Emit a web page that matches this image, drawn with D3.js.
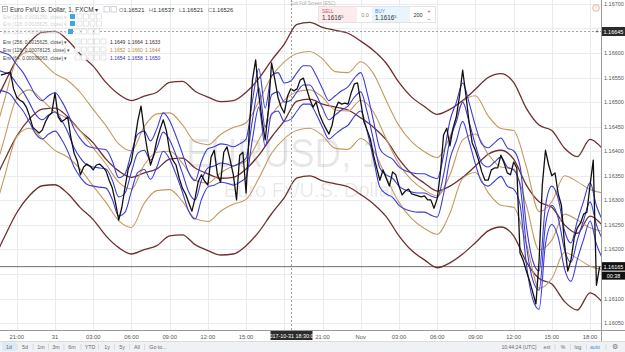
<!DOCTYPE html>
<html><head><meta charset="utf-8">
<script src="https://cdn.jsdelivr.net/npm/d3@7"></script>
<style>
html,body{margin:0;padding:0;background:#fff;overflow:hidden}
svg{display:block;font-family:"Liberation Sans",Arial,sans-serif}
</style></head><body>
<svg id="chart" width="625" height="352"></svg>
<script>
// ---------------- DATA ----------------
const priceStart = "2017-10-30T19:45:00";   // 15-minute samples of the close
const priceStepMin = 15;
const price = [
1.16555,1.16557,1.16559,1.16561,1.16527,1.16510,1.16504,1.16500,1.16490,1.16472,
1.16449,1.16443,1.16437,1.16443,1.16460,1.16472,1.16478,1.16519,1.16470,1.16460,
1.16464,1.16470,1.16427,1.16396,1.16380,1.16352,1.16368,1.16374,1.16370,1.16362,
1.16372,1.16374,1.16368,1.16360,1.16341,1.16325,1.16295,1.16260,1.16286,1.16327,
1.16364,1.16380,1.16419,1.16462,1.16492,1.16443,1.16402,1.16372,1.16392,1.16423,
1.16445,1.16464,1.16441,1.16400,1.16382,1.16372,1.16345,1.16325,1.16313,1.16295,
1.16278,1.16305,1.16339,1.16352,1.16339,1.16331,1.16388,1.16402,1.16352,1.16337,
1.16398,1.16409,1.16382,1.16352,1.16301,1.16392,1.16398,1.16315,1.16443,1.16545,
1.16586,1.16515,1.16464,1.16423,1.16484,1.16580,1.16547,1.16510,1.16490,1.16478,
1.16512,1.16527,1.16523,1.16527,1.16545,1.16549,1.16527,1.16506,1.16490,1.16500,
1.16476,1.16460,1.16447,1.16435,1.16453,1.16486,1.16500,1.16496,1.16498,1.16496,
1.16519,1.16537,1.16539,1.16500,1.16460,1.16443,1.16425,1.16392,1.16366,1.16341,
1.16362,1.16345,1.16329,1.16358,1.16352,1.16329,1.16311,1.16319,1.16323,1.16313,
1.16311,1.16309,1.16307,1.16309,1.16301,1.16301,1.16284,1.16303,1.16356,1.16433,
1.16447,1.16411,1.16447,1.16470,1.16512,1.16565,1.16515,1.16460,1.16417,1.16402,
1.16382,1.16358,1.16341,1.16341,1.16362,1.16366,1.16366,1.16392,1.16376,1.16356,
1.16352,1.16378,1.16366,1.16193,1.16178,1.16156,1.16136,1.16113,1.16089,1.16178,
1.16331,1.16402,1.16372,1.16350,1.16356,1.16313,1.16290,1.16209,1.16156,1.16178,
1.16223,1.16244,1.16254,1.16272,1.16276,1.16331,1.16382,1.16127,1.16165
];

// Envelope middle lines (moving averages)
const env256Start = "2017-10-30T19:00:00";  // hourly
const env256Mid = [
1.16325,1.16380,1.16431,1.16466,1.16486,1.16488,1.16470,1.16441,1.16417,1.16384,
1.16360,1.16347,1.16356,1.16364,1.16384,1.16386,1.16366,1.16354,1.16345,1.16347,
1.16364,1.16392,1.16429,1.16462,1.16502,1.16506,1.16496,1.16490,1.16484,1.16468,
1.16449,1.16423,1.16384,1.16354,1.16335,1.16319,1.16329,1.16347,1.16370,1.16394,
1.16402,1.16384,1.16331,1.16297,1.16286,1.16250,1.16233,1.16268,1.16248
];
const env128Start = "2017-10-30T19:00:00";  // hourly
const env128Mid = [
1.16331,1.16423,1.16508,1.16525,1.16504,1.16480,1.16466,1.16441,1.16407,1.16374,
1.16337,1.16323,1.16372,1.16398,1.16400,1.16376,1.16341,1.16335,1.16356,1.16370,
1.16380,1.16423,1.16474,1.16504,1.16521,1.16525,1.16510,1.16484,1.16482,1.16504,
1.16480,1.16425,1.16374,1.16341,1.16321,1.16309,1.16352,1.16423,1.16435,1.16394,
1.16368,1.16364,1.16290,1.16199,1.16219,1.16272,1.16260,1.16244,1.16237
];
const env64Start = "2017-10-30T19:30:00";   // half-hourly
const env64Mid = [
1.16565,1.16561,1.16555,1.16537,1.16521,1.16498,1.16474,1.16464,1.16474,1.16480,
1.16464,1.16439,1.16407,1.16386,1.16372,1.16368,1.16366,1.16364,1.16341,1.16307,
1.16315,1.16358,1.16396,1.16402,1.16382,1.16407,1.16439,1.16423,1.16392,1.16356,
1.16317,1.16301,1.16341,1.16366,1.16370,1.16376,1.16374,1.16370,1.16376,1.16386,
1.16464,1.16529,1.16449,1.16515,1.16521,1.16500,1.16504,1.16521,1.16535,1.16535,
1.16515,1.16488,1.16464,1.16474,1.16484,1.16492,1.16510,1.16521,1.16480,1.16423,
1.16366,1.16352,1.16345,1.16329,1.16321,1.16317,1.16315,1.16315,1.16309,1.16305,
1.16352,1.16423,1.16460,1.16500,1.16460,1.16413,1.16376,1.16368,1.16378,1.16388,
1.16368,1.16362,1.16331,1.16209,1.16138,1.16117,1.16250,1.16290,1.16264,1.16199,
1.16174,1.16219,1.16260,1.16297,1.16250,1.16219
];

const envLabels = ["Env (256, 0.0015625, close)", "Env (128, 0.00078125, close)", "Env (64, 0.00039063, close)"];
const envOffsets = [0.0015625, 0.00078125, 0.000390625];
const envLegendValues = [["1.1649","1.1664","1.1633"],["1.1652","1.1660","1.1644"],["1.1654","1.1658","1.1650"]];
const hiddenLabels = ["Env (256, 0.0031250, close)", "Env (128, 0.0015625, close)", "Env (256, 0.0039063, close)"];
const ohlc = [["O","1.16521"],["H","1.16537"],["L","1.16521"],["C","1.16526"]];

const yTicks = [1.1670,1.1665,1.1660,1.1655,1.1650,1.1645,1.1640,1.1635,1.1630,1.1625,1.1620,1.1615,1.1610,1.1605];
const xTicks = [
 ["2017-10-30T21:00:00","21:00"],["2017-10-31T00:00:00","31"],["2017-10-31T03:00:00","03:00"],
 ["2017-10-31T06:00:00","06:00"],["2017-10-31T09:00:00","09:00"],["2017-10-31T12:00:00","12:00"],
 ["2017-10-31T15:00:00","15:00"],["2017-10-31T18:00:00","18:00"],["2017-10-31T21:00:00","21:00"],
 ["2017-11-01T00:00:00","Nov"],["2017-11-01T03:00:00","03:00"],["2017-11-01T06:00:00","06:00"],
 ["2017-11-01T09:00:00","09:00"],["2017-11-01T12:00:00","12:00"],["2017-11-01T15:00:00","15:00"],
 ["2017-11-01T18:00:00","18:00"]
];
const crossTime = "2017-10-31T18:30:00";
const crossTimeLabel = "2017-10-31 18:30:00";
const crossPrice = 1.16645;
const countdown = "00:38";
const rangeButtons = ["1d","5d","1m","3m","6m","YTD","1y","5y","All","Go to..."];
const rightButtons = ["10:44:24 (UTC)","ext","%","log","auto"];

// ---------------- DRAWING ----------------
const W = 625, H = 352, PR = 601, PB = 330;
const svg = d3.select("#chart");
const parse = s => new Date(s);
const x = d3.scaleTime().domain([parse("2017-10-30T19:41:00"), parse("2017-11-01T18:51:30")]).range([0, PR]);
const y = d3.scaleLinear().domain([1.16036, 1.16708]).range([PB, 0]);

const series = (start, stepMin, vals) => vals.map((v, i) => ({t: new Date(parse(start).getTime() + i*stepMin*60000), v}));
const priceData = series(priceStart, priceStepMin, price);
const lastPrice = price[price.length-1];
const env = [
  {data: series(env256Start, 60, env256Mid), color: "#6e2f2f", w: 1.3, off: envOffsets[0]},
  {data: series(env128Start, 60, env128Mid), color: "#c49a5e", w: 1.1, off: envOffsets[1]},
  {data: series(env64Start, 30, env64Mid), color: "#3c3cd6", w: 1.1, off: envOffsets[2]}
];

svg.append("defs").append("clipPath").attr("id","plot").append("rect").attr("x",0).attr("y",0).attr("width",PR).attr("height",PB);

// grid
const grid = svg.append("g");
grid.selectAll("line.h").data(yTicks).join("line").attr("x1",0).attr("x2",PR)
  .attr("y1",d=>Math.round(y(d))+0.5).attr("y2",d=>Math.round(y(d))+0.5).attr("stroke","#e9ebee").attr("stroke-width",1);
grid.selectAll("line.v").data(xTicks).join("line").attr("y1",0).attr("y2",PB)
  .attr("x1",d=>Math.round(x(parse(d[0])))+0.5).attr("x2",d=>Math.round(x(parse(d[0])))+0.5).attr("stroke","#e9ebee");

// watermark
svg.append("text").attr("x",186).attr("y",167).attr("font-size",40).attr("fill","#000").attr("fill-opacity",0.095)
  .attr("textLength",196).attr("lengthAdjust","spacingAndGlyphs").text("EURUSD, 1");
svg.append("text").attr("x",224).attr("y",197).attr("font-size",20).attr("fill","#000").attr("fill-opacity",0.095)
  .text("Euro Fx/U.S. Dollar");

const plot = svg.append("g").attr("clip-path","url(#plot)");

// current price line
plot.append("line").attr("x1",0).attr("x2",PR).attr("y1",y(lastPrice)).attr("y2",y(lastPrice))
  .attr("stroke","#4a4a4a").attr("stroke-width",0.8);

const lineGen = (acc) => d3.line().x(d=>x(d.t)).y(d=>y(acc(d))).curve(d3.curveMonotoneX);
env.forEach(e => {
  [d=>d.v + e.off, d=>d.v, d=>d.v - e.off].forEach(acc => {
    plot.append("path").datum(e.data).attr("d", lineGen(acc)).attr("fill","none")
      .attr("stroke", e.color).attr("stroke-width", e.w);
  });
});

plot.append("path").datum(priceData)
  .attr("d", d3.line().x(d=>x(d.t)).y(d=>y(d.v)))
  .attr("fill","none").attr("stroke","#111").attr("stroke-width",1.3).attr("stroke-linejoin","round");

// crosshair
const cx = Math.round(x(parse(crossTime)))+0.5, cy = Math.round(y(crossPrice))+0.5;
svg.append("line").attr("x1",cx).attr("x2",cx).attr("y1",0).attr("y2",PB).attr("stroke","#8a8a8a").attr("stroke-dasharray","2,2").attr("stroke-width",0.8);
svg.append("line").attr("x1",0).attr("x2",PR).attr("y1",cy).attr("y2",cy).attr("stroke","#8a8a8a").attr("stroke-dasharray","2,2").attr("stroke-width",0.8);

// axes borders
svg.append("line").attr("x1",PR+0.5).attr("x2",PR+0.5).attr("y1",0).attr("y2",PB+11).attr("stroke","#9a9a9a");
svg.append("line").attr("x1",0).attr("x2",W).attr("y1",PB+0.5).attr("y2",PB+0.5).attr("stroke","#9a9a9a");

// y labels (those hidden under the crosshair / last-price boxes are skipped)
const ly = y(lastPrice);
const yVisible = yTicks.filter(d => Math.abs(y(d)-cy) > 7 && !(y(d) > ly-7 && y(d) < ly+16));
svg.selectAll("text.yl").data(yVisible).join("text").attr("x",604).attr("y",d=>y(d)+2)
  .attr("font-size",5.5).attr("fill","#555").text(d=>d3.format(".5f")(d));

// x labels
const xVisible = xTicks.filter(d => Math.abs(x(parse(d[0]))-cx) > 26);
svg.selectAll("text.xl").data(xVisible).join("text").attr("x",d=>x(parse(d[0]))).attr("y",338.5)
  .attr("text-anchor","middle").attr("font-size",5.8).attr("fill","#555").text(d=>d[1]);

// crosshair labels
svg.append("rect").attr("x",cx-21).attr("y",331).attr("width",42).attr("height",9).attr("fill","#2b2b2b");
svg.append("text").attr("x",cx).attr("y",337.8).attr("text-anchor","middle").attr("font-size",5.4).attr("fill","#fff").text(crossTimeLabel);
svg.append("rect").attr("x",602).attr("y",cy-4.5).attr("width",23).attr("height",9).attr("fill","#2b2b2b");
svg.append("text").attr("x",603.5).attr("y",cy+2).attr("font-size",5.5).attr("fill","#fff").text(d3.format(".5f")(crossPrice));
svg.append("text").attr("x",597).attr("y",cy+2.5).attr("text-anchor","middle").attr("font-size",7).attr("fill","#555").text("+");

// last price label + countdown
svg.append("rect").attr("x",602).attr("y",ly-4.5).attr("width",23).attr("height",8.5).attr("fill","#111");
svg.append("text").attr("x",603.5).attr("y",ly+2).attr("font-size",5.5).attr("fill","#fff").text(d3.format(".5f")(lastPrice));
svg.append("rect").attr("x",602).attr("y",ly+5).attr("width",23).attr("height",8).attr("fill","#111");
svg.append("text").attr("x",613.5).attr("y",ly+11).attr("text-anchor","middle").attr("font-size",5.4).attr("fill","#fff").text(countdown);

// top-right icon
svg.append("circle").attr("cx",596).attr("cy",8).attr("r",3.3).attr("fill","none").attr("stroke","#e0a070").attr("stroke-width",0.8);
svg.append("text").attr("x",596).attr("y",10).attr("text-anchor","middle").attr("font-size",5).attr("fill","#e0a070").text("!");

// legend
const lg = svg.append("g");
lg.append("rect").attr("x",2.5).attr("y",6.5).attr("width",5).attr("height",5).attr("fill","#fff").attr("stroke","#777").attr("stroke-width",0.6);
lg.append("line").attr("x1",3.5).attr("x2",6.5).attr("y1",9).attr("y2",9).attr("stroke","#555").attr("stroke-width",0.6);
lg.append("text").attr("x",10).attr("y",11.5).attr("fill","#333").attr("font-size",6.4).text("Euro Fx/U.S. Dollar, 1, FXCM \u25BE");
[0,1].forEach(i=>lg.append("rect").attr("x",104+i*7).attr("y",6.5).attr("width",5.5).attr("height",5.5).attr("fill","#fff").attr("stroke","#bbb").attr("stroke-width",0.6));
const ohlcX = [119,149,179,208];
ohlc.forEach((o,i)=>{
  const t = lg.append("text").attr("x",ohlcX[i]).attr("y",11.5).attr("font-size",5.8);
  t.append("tspan").attr("fill","#888").text(o[0]);
  t.append("tspan").attr("fill","#333").text(o[1]);
});
const hidY = [19,26,34];
hiddenLabels.forEach((s,i)=>{
  lg.append("text").attr("x",3).attr("y",hidY[i]).attr("fill","#d2d2d2").attr("font-size",4.8).text(s+" \u25BE");
  const bx = i===2 ? 68 : 70;
  lg.append("rect").attr("x",bx).attr("y",hidY[i]-5).attr("width",5).attr("height",5).attr("fill","#3ea6e3");
  for(let k=0;k<4;k++) lg.append("rect").attr("x",bx+7+k*6.5).attr("y",hidY[i]-5).attr("width",5).attr("height",5).attr("fill","#fff").attr("stroke","#ccc").attr("stroke-width",0.5);
});
const envY = [44,52,60];
const valColors = ["#3a1f1f","#b98a3e","#3232c0"];
envLabels.forEach((s,i)=>{
  lg.append("text").attr("x",3).attr("y",envY[i]).attr("fill","#444").attr("font-size",4.8).text(s+" \u25BE");
  for(let k=0;k<5;k++) lg.append("rect").attr("x",75+k*6.5).attr("y",envY[i]-5).attr("width",5).attr("height",5).attr("fill","#fff").attr("stroke","#ccc").attr("stroke-width",0.5);
  envLegendValues[i].forEach((v,j)=>lg.append("text").attr("x",110+j*17.5).attr("y",envY[i]).attr("fill",valColors[i]).attr("font-size",5).text(v));
});

// buy/sell widget
const wg = svg.append("g");
wg.append("text").attr("x",313).attr("y",4.5).attr("text-anchor","middle").attr("font-size",4.5).attr("fill","#aaa").text("Exit Full Screen (ESC)");
wg.append("rect").attr("x",318.5).attr("y",6.5).attr("width",117).attr("height",16).attr("fill","#fff").attr("stroke","#ddd").attr("stroke-width",0.8);
wg.append("rect").attr("x",319).attr("y",7).attr("width",38).attr("height",15).attr("fill","#fdebed");
wg.append("rect").attr("x",372).attr("y",7).attr("width",38).attr("height",15).attr("fill","#e9f4fc");
wg.append("text").attr("x",322).attr("y",12.5).attr("font-size",4.8).attr("fill","#e0505c").text("SELL");
wg.append("text").attr("x",375).attr("y",12.5).attr("font-size",4.8).attr("fill","#3b8fd9").text("BUY");
[322,375].forEach(px=>{
  const t = wg.append("text").attr("x",px).attr("y",20).attr("font-size",6.3).attr("fill","#333");
  t.append("tspan").text("1.1616");
  t.append("tspan").attr("font-size",4).attr("dy",-2).text("5");
});
wg.append("text").attr("x",365).attr("y",17).attr("text-anchor","middle").attr("font-size",5.5).attr("fill","#888").text("0.0");
wg.append("text").attr("x",418).attr("y",17).attr("text-anchor","middle").attr("font-size",5.5).attr("fill","#333").text("200");
wg.append("text").attr("x",429).attr("y",12.5).attr("text-anchor","middle").attr("font-size",6).attr("fill","#c44").text("+");
wg.append("text").attr("x",429).attr("y",20.5).attr("text-anchor","middle").attr("font-size",6).attr("fill","#c44").text("\u2212");

// bottom toolbar
const tb = svg.append("g");
tb.append("rect").attr("x",0).attr("y",341).attr("width",W).attr("height",11).attr("fill","#eff1f4");
tb.append("line").attr("x1",0).attr("x2",W).attr("y1",341.5).attr("y2",341.5).attr("stroke","#dcdcdc");
tb.append("rect").attr("x",2).attr("y",342.5).attr("width",14).attr("height",8.5).attr("fill","#dbe8f6");
const rbX = [9,25,41,56,72,90,107,122,137,158];
rangeButtons.forEach((s,i)=>{
  tb.append("text").attr("x",rbX[i]).attr("y",348.8).attr("text-anchor","middle").attr("font-size",5.3).attr("fill","#6a6a6a").text(s);
  if(i<rangeButtons.length-1){
    const sx = (rbX[i]+rbX[i+1])/2+(i===8?-3:0);
    tb.append("line").attr("x1",sx).attr("x2",sx).attr("y1",344).attr("y2",350).attr("stroke","#cfcfcf").attr("stroke-width",0.6);
  }
});
const rX = [519,547,563,578,595];
rightButtons.forEach((s,i)=>{
  tb.append("text").attr("x",rX[i]).attr("y",348.8).attr("text-anchor","middle").attr("font-size",5.1).attr("fill", i===4?"#3b8fd9":"#6a6a6a").text(s);
  const sx = i<4 ? (rX[i]+rX[i+1])/2 + (i===0?3:0) : 606;
  tb.append("line").attr("x1",sx).attr("x2",sx).attr("y1",344).attr("y2",350).attr("stroke","#cfcfcf").attr("stroke-width",0.6);
});
tb.append("text").attr("x",615).attr("y",349.3).attr("text-anchor","middle").attr("font-size",7).attr("fill","#777").text("\u2699");
</script>
</body></html>
